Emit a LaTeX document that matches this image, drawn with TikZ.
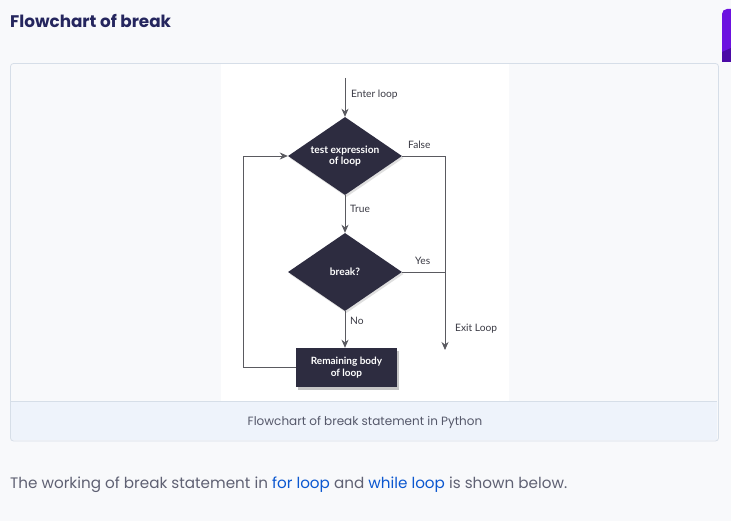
\documentclass[tikz,border=0pt]{standalone}
\usepackage{fontspec}
\setmainfont{Poppins}
\newfontfamily\chartfont{Lato}
\usetikzlibrary{shapes.geometric,arrows.meta,shadows}
\definecolor{pagebg}{HTML}{F8F9FB}
\definecolor{titlec}{HTML}{25265E}
\definecolor{cardline}{HTML}{D6DEE8}
\definecolor{capbg}{HTML}{EEF3FB}
\definecolor{capc}{HTML}{55586A}
\definecolor{bodyc}{HTML}{5F6173}
\definecolor{linkc}{HTML}{0B57D0}
\definecolor{boxfill}{HTML}{2D2C40}
\definecolor{linec}{HTML}{5A5A60}
\definecolor{lblc}{HTML}{3A3A44}
\definecolor{purp}{HTML}{6C12E0}
\definecolor{purpd}{HTML}{4B0AA6}
\begin{document}
\begin{tikzpicture}[x=1pt,y=-1pt,
  decision/.style={diamond,fill=boxfill,aspect=1.46,minimum width=114pt,minimum height=78pt,inner sep=0pt,
     text=white,font=\chartfont\bfseries\fontsize{10.2}{11.5}\selectfont,align=center,
     drop shadow={shadow xshift=1.5pt,shadow yshift=-2pt,opacity=0.25}},
  procbox/.style={rectangle,fill=boxfill,minimum width=101pt,minimum height=39pt,inner sep=0pt,
     text=white,font=\chartfont\bfseries\fontsize{10}{12.5}\selectfont,align=center,
     drop shadow={shadow xshift=2pt,shadow yshift=-3pt,opacity=0.45}},
  conn/.style={draw=linec,line width=0.9pt},
  arr/.style={conn,-{Stealth[length=8pt,width=7pt,inset=2.5pt]}},
  lbl/.style={font=\chartfont\fontsize{10.2}{12}\selectfont,text=lblc,inner sep=0pt,anchor=west},
]
\useasboundingbox (0,0) rectangle (731,521);
\fill[pagebg] (0,0) rectangle (731,521);
% purple tab
\fill[purp] (722,14) to[out=90,in=180] (727,9) -- (731,9) -- (731,62) -- (722,62) -- cycle;
\fill[purpd] (722,52) -- (731,48) -- (731,62) -- (722,62) -- cycle;
% title
\node[anchor=west,inner sep=0pt,text=titlec,font=\bfseries\fontsize{16.8}{20}\selectfont] (title) at (10,21) {Flowchart of break};
% card
\fill[white] (221,64) rectangle (509,401);
\fill[capbg] (11,401) rectangle (717,440);
\draw[cardline,line width=0.8pt] (11,401) -- (717,401);
\draw[cardline,line width=0.8pt,rounded corners=3pt] (10.5,63.5) rectangle (718.5,441);
\node[text=capc,font=\fontsize{12}{14}\selectfont,inner sep=0pt] (cap) at (365,422) {Flowchart of break statement in Python};
% body text
\node[anchor=west,inner sep=0pt,text=bodyc,font=\fontsize{15.2}{18}\selectfont] (body) at (10,485)
  {The working of break statement in \textcolor{linkc}{for loop} and \textcolor{linkc}{while loop} is shown below.};
% flowchart
\coordinate (start) at (345,78);
\node[decision] (d1) at (345,156) {test expression\\of loop};
\node[decision] (d2) at (345,272) {break?};
\node[procbox] (rb) at (346.5,367.5) {Remaining body\\of loop};
\coordinate (fr) at (445,156);
\coordinate (yr) at (445,272);
\coordinate (exit) at (445,350);
\coordinate (bl) at (243,367.5);
\coordinate (tl) at (243,156);
\draw[arr] (start) -- (d1.north);
\draw[arr] (d1.south) -- (d2.north);
\draw[arr] (d2.south) -- (rb.north -| d2.south);
\draw[arr] (d1.east) -- (fr) -- (exit);
\draw[conn] (d2.east) -- (yr);
\draw[arr] (rb.west) -- (bl) -- (tl) -- (d1.west);
\node[lbl] (l1) at (351,95) {Enter loop};
\node[lbl] (l2) at (408,145) {False};
\node[lbl] (l3) at (350,209) {True};
\node[lbl] (l4) at (415,261) {Yes};
\node[lbl] (l5) at (350,321) {No};
\node[lbl] (l6) at (455,329) {Exit Loop};
\end{tikzpicture}
\end{document}
